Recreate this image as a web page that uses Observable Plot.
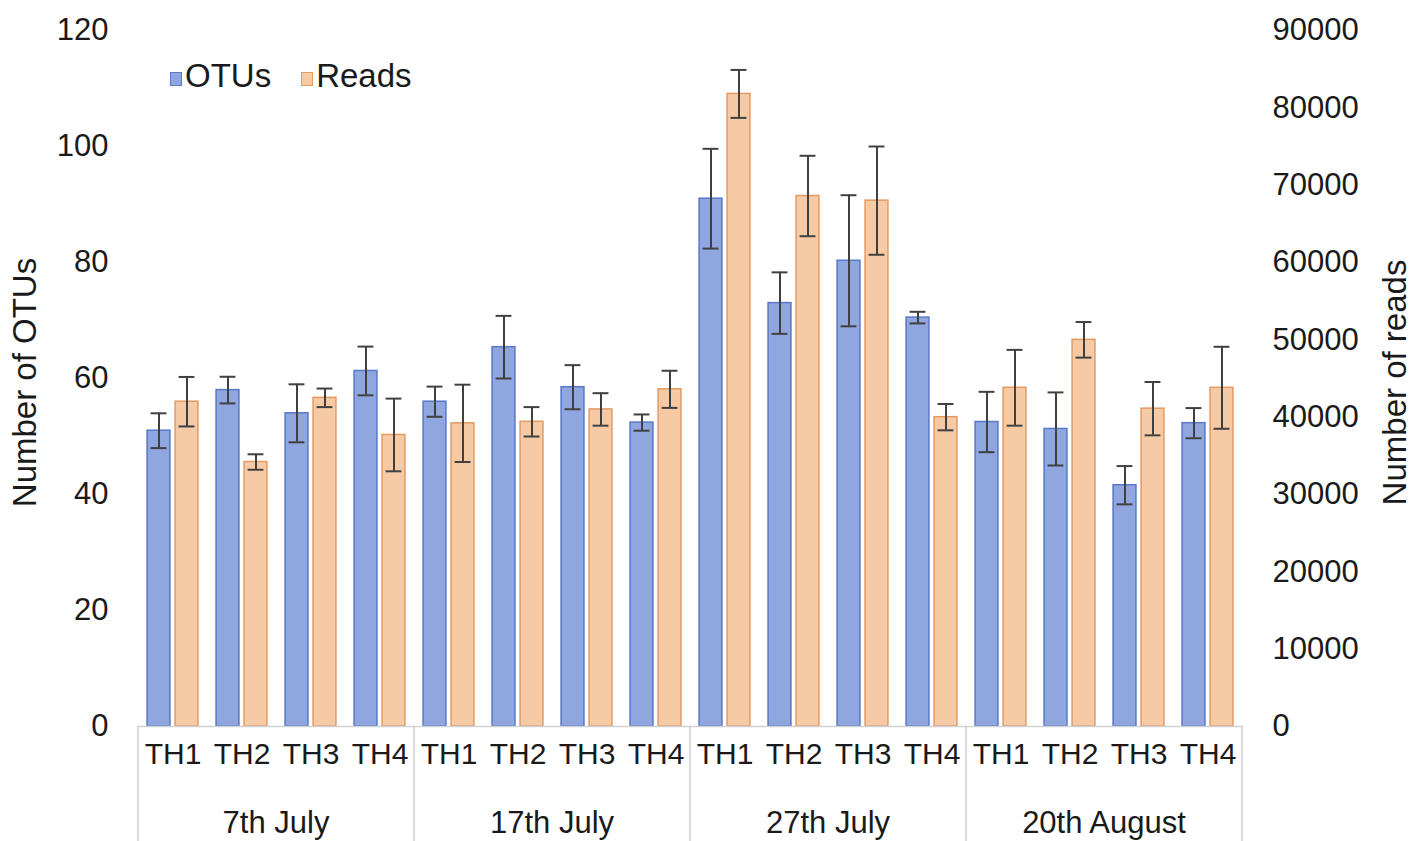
<!DOCTYPE html>
<html>
<head>
<meta charset="utf-8">
<script src="https://cdn.jsdelivr.net/npm/d3@7"></script>
<script src="https://cdn.jsdelivr.net/npm/@observablehq/plot@0.6"></script>
<style>
  body { margin: 0; background: #fff; }
  #wrap { position: relative; width: 1424px; height: 841px; overflow: hidden; font-family: "Liberation Sans", Arial, sans-serif; }
  #legend { position: absolute; left: 170px; top: 57px; display: flex; align-items: center; font-size: 33px; color: #1a1a1a; }
  #legend .item { display: flex; align-items: center; margin-right: 30px; }
  #legend .sw { width: 12px; height: 14px; box-sizing: border-box; border: 1.5px solid; margin-right: 3px; margin-top: 5px; }
</style>
</head>
<body>
<div id="wrap"><div id="chart"></div><div id="legend"></div></div>
<script>
// ---- data ----
const dates = ["7th July", "17th July", "27th July", "20th August"];
const sites = ["TH1", "TH2", "TH3", "TH4"];
const seriesNames = ["OTUs", "Reads"];
const otuMean = [51, 58, 54, 61.3,   56, 65.4, 58.5, 52.4,   91, 73, 80.3, 70.5,   52.5, 51.3, 41.6, 52.3];
const otuErr  = [3, 2.3, 5, 4.2,     2.6, 5.4, 3.8, 1.4,     8.6, 5.3, 11.3, 1.0,   5.2, 6.3, 3.3, 2.6];
const readMean = [42000, 34200, 42500, 37700,   39200, 39400, 41000, 43600,   81800, 68600, 68000, 40000,   43800, 50000, 41100, 43800];
const readErr  = [3200, 1000, 1200, 4700,       5000, 1900, 2100, 2400,       3100, 5200, 7000, 1700,       4900, 2300, 3450, 5300];
const leftTicks = [0, 20, 40, 60, 80, 100, 120];
const rightTicks = [0, 10000, 20000, 30000, 40000, 50000, 60000, 70000, 80000, 90000];
const leftTitle = "Number of OTUs";
const rightTitle = "Number of reads";

// ---- styles ----
const fills = {OTUs: "#8fa7de", Reads: "#f7caa6"};
const strokes = {OTUs: "#5a78c8", Reads: "#e39a63"};
const errColor = "#404040";
const boxColor = "#cfd1d4";
const textColor = "#1a1a1a";

const W = 1424, H = 841, mL = 137, mR = 181, mT = 30, mB = 115;

// second axis maps reads onto the OTU scale
const toLeft = d3.scaleLinear([0, d3.max(rightTicks)], [0, d3.max(leftTicks)]);

const rows = [];
dates.forEach((date, i) => sites.forEach((th, j) => {
  const k = i * sites.length + j;
  rows.push({key: date + " " + th, date, th,
    otu: otuMean[k], otuErr: otuErr[k], reads: readMean[k], readsErr: readErr[k]});
}));

const step = (W - mL - mR) / rows.length;
const barW = 23, gap = 5, capW = 16;
const outer = (step - 2 * barW - gap) / 2;
const off = gap / 2 + barW / 2;
const capInset = (step - capW) / 2;

const errMarks = (yv, ev, dx) => [
  Plot.ruleX(rows, {x: "key", y1: d => yv(d) - ev(d), y2: d => yv(d) + ev(d), dx, stroke: errColor, strokeWidth: 2}),
  Plot.tickY(rows, {x: "key", y: d => yv(d) + ev(d), dx, insetLeft: capInset, insetRight: capInset, stroke: errColor, strokeWidth: 2}),
  Plot.tickY(rows, {x: "key", y: d => yv(d) - ev(d), dx, insetLeft: capInset, insetRight: capInset, stroke: errColor, strokeWidth: 2})
];

const chart = Plot.plot({
  width: W, height: H,
  marginLeft: mL, marginRight: mR, marginTop: mT, marginBottom: mB,
  style: {fontFamily: '"Liberation Sans", Arial, sans-serif', fontSize: "31px", color: textColor, background: "#fff"},
  x: {domain: rows.map(d => d.key), padding: 0, axis: null},
  y: {domain: [0, d3.max(leftTicks)], axis: null},
  marks: [
    Plot.barY(rows, {x: "key", y: "otu", fill: fills.OTUs, stroke: strokes.OTUs, strokeWidth: 1.5,
      insetLeft: outer, insetRight: step - outer - barW}),
    Plot.barY(rows, {x: "key", y: d => toLeft(d.reads), fill: fills.Reads, stroke: strokes.Reads, strokeWidth: 1.5,
      insetLeft: outer + barW + gap, insetRight: outer}),
    ...errMarks(d => d.otu, d => d.otuErr, -off),
    ...errMarks(d => toLeft(d.reads), d => toLeft(d.readsErr), off),
    Plot.ruleY([0], {stroke: boxColor, strokeWidth: 1.5}),
    Plot.axisY(leftTicks, {anchor: "left", tickSize: 0, tickPadding: 29, label: null, fontSize: 31, fill: textColor}),
    Plot.axisY(rightTicks, {anchor: "right", y: toLeft, tickFormat: d => String(d), tickSize: 0, tickPadding: 29, label: null, fontSize: 31, fill: textColor}),
    Plot.text(rows, {x: "key", text: "th", frameAnchor: "bottom", dy: 37, fontSize: 30, fill: textColor}),
    Plot.text([leftTitle], {text: d => d, frameAnchor: "left", textAnchor: "middle", dx: -112, dy: 4, rotate: -90, fontSize: 33, fill: textColor}),
    Plot.text([rightTitle], {text: d => d, frameAnchor: "right", textAnchor: "middle", dx: 152, dy: 4, rotate: -90, fontSize: 33, fill: textColor})
  ]
});

document.getElementById("chart").appendChild(chart);

// ---- multi-level category box, positioned with the chart's own scales ----
const xs = chart.scale("x");
const y0 = chart.scale("y").apply(0);
const svg = d3.select(chart);
const g = svg.append("g");
dates.forEach((date, i) => {
  const left = xs.apply(date + " " + sites[0]);
  const right = xs.apply(date + " " + sites[sites.length - 1]) + xs.bandwidth;
  g.append("line").attr("x1", left).attr("x2", left).attr("y1", y0).attr("y2", H)
    .attr("stroke", boxColor).attr("stroke-width", 1.5);
  if (i === dates.length - 1)
    g.append("line").attr("x1", right).attr("x2", right).attr("y1", y0).attr("y2", H)
      .attr("stroke", boxColor).attr("stroke-width", 1.5);
  g.append("text").attr("x", (left + right) / 2).attr("y", y0 + 99)
    .attr("text-anchor", "middle").attr("dominant-baseline", "middle")
    .attr("font-size", 31).attr("fill", textColor).text(date);
});

// ---- legend ----
const legend = d3.select("#legend");
seriesNames.forEach(s => {
  const it = legend.append("div").attr("class", "item");
  it.append("div").attr("class", "sw").style("background", fills[s]).style("border-color", strokes[s]);
  it.append("span").text(s);
});
</script>
</body>
</html>
